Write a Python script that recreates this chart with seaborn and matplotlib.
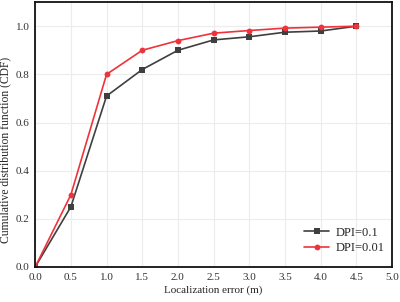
import pandas as pd
import seaborn as sns
import matplotlib.pyplot as plt

error_m = [0.0, 0.5, 1.0, 1.5, 2.0, 2.5, 3.0, 3.5, 4.0, 4.5]
cdf_dpi_01 = [0.0, 0.25, 0.71, 0.82, 0.90, 0.943, 0.956, 0.975, 0.98, 1.0]
cdf_dpi_001 = [0.0, 0.30, 0.80, 0.90, 0.94, 0.971, 0.982, 0.992, 0.996, 1.0]
series_names = ["DPI=0.1", "DPI=0.01"]

df = pd.concat([
    pd.DataFrame({"err": error_m, "cdf": cdf_dpi_01, "series": series_names[0]}),
    pd.DataFrame({"err": error_m, "cdf": cdf_dpi_001, "series": series_names[1]}),
])

sns.set_style("white")
plt.rcParams['font.family'] = ['Liberation Serif', 'DejaVu Serif']

fig, ax = plt.subplots(figsize=(4, 3.02), dpi=100)
fig.subplots_adjust(left=0.088, right=0.98, top=0.993, bottom=0.116)

palette = {"DPI=0.1": "#3f3f3f", "DPI=0.01": "#f0323c"}
markers = {"DPI=0.1": "s", "DPI=0.01": "o"}
sns.lineplot(data=df, x="err", y="cdf", hue="series", style="series",
             palette=palette, markers=markers, dashes=False, markersize=4.2,
             markeredgewidth=0, linewidth=1.2, ax=ax)

ax.set_xlim(0, 5)
ax.set_ylim(0, 1.1)
ax.set_xticks([0, 0.5, 1, 1.5, 2, 2.5, 3, 3.5, 4, 4.5, 5])
ax.set_yticks([0, 0.2, 0.4, 0.6, 0.8, 1.0])
ax.set_xticklabels([f"{v:.1f}" for v in ax.get_xticks()])
ax.set_yticklabels([f"{v:.1f}" for v in ax.get_yticks()])
ax.grid(True, color="#ececec", linewidth=0.8)
ax.tick_params(direction="in", length=3, width=1, labelsize=8, colors="#333333", pad=4)
for s in ax.spines.values():
    s.set_linewidth(1.3)
    s.set_color("#111111")

ax.set_xlabel("Localization error (m)", fontsize=8, labelpad=3)
ax.set_ylabel("Cumulative distribution function (CDF)", fontsize=8.4)
ax.yaxis.set_label_coords(-0.066, 0.44)
ax.legend(title=None, loc="lower right", frameon=False, fontsize=9,
          handlelength=2.0, labelspacing=0.3, handletextpad=0.5,
          bbox_to_anchor=(1.01, 0.005))

fig.savefig("out.png", dpi=100)
